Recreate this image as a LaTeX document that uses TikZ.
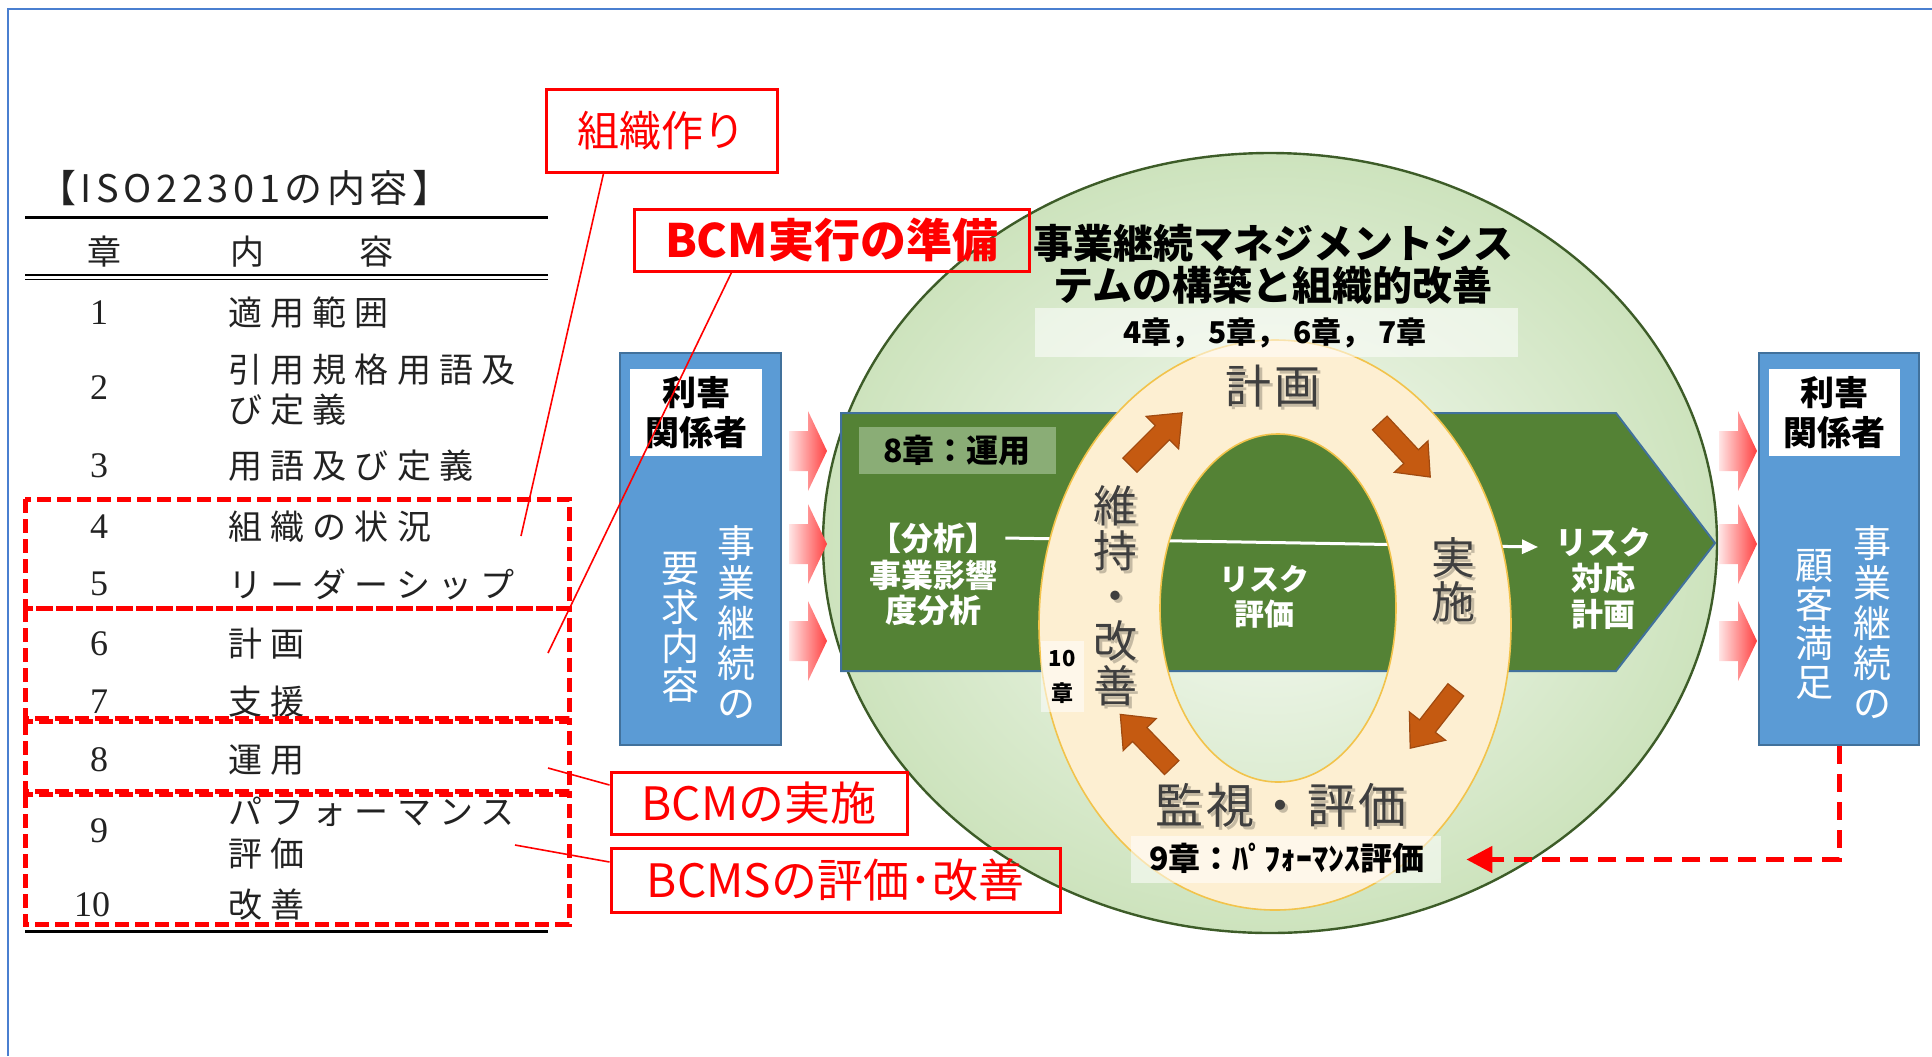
\documentclass[tikz,border=0pt]{standalone}
\usepackage{fontspec}
\setmainfont{Noto Sans CJK JP}
\newfontfamily\serifnum{Liberation Serif}
\usetikzlibrary{arrows.meta,fit,calc}
\definecolor{frameblue}{HTML}{4A7FD0}
\definecolor{boxblue}{HTML}{5B9BD5}
\definecolor{boxblueedge}{HTML}{41719C}
\definecolor{bandgreen}{HTML}{548235}
\definecolor{ringfill}{HTML}{FDEFD2}
\definecolor{ringedge}{HTML}{F2C34B}
\definecolor{orangearrow}{HTML}{C55A11}
\definecolor{orangeedge}{HTML}{A04A10}
\definecolor{ringtext}{HTML}{3F3F3F}
\definecolor{circleedge}{HTML}{3D5C28}
\definecolor{circlein}{HTML}{F7FBF5}
\definecolor{circleout}{HTML}{CDE3BD}
\definecolor{labelgreen}{HTML}{8AAD76}
\definecolor{tabtext}{HTML}{222222}
\newcommand{\fsz}[2]{\fontsize{#1pt}{#2pt}\selectfont}
\newcommand{\oarrow}[3]{%
  \begin{scope}[shift={(#1,#2)},rotate=#3]
    \draw[fill=orangearrow,draw=orangeedge,line width=0.6pt]
      (-37,-10) -- (9,-10) -- (9,-23) -- (37,0) -- (9,23) -- (9,10) -- (-37,10) -- cycle;
  \end{scope}}
\newcommand{\parrow}[2]{%
  \shade[left color=red!10,right color=red!75]
    (#1,#2-20) -- (#1+19,#2-20) -- (#1+19,#2-40) -- (#1+38,#2) -- (#1+19,#2+40) -- (#1+19,#2+20) -- (#1,#2+20) -- cycle;}
\tikzset{
  tabtxt/.style={anchor=west,inner sep=0,align=left,text=tabtext,font={\fsz{17}{20}\addfontfeature{LetterSpace=24}}},
  tabnum/.style={inner sep=0,text=tabtext,font={\serifnum\fsz{18}{20}}},
  callout/.style={draw=red,line width=1.5pt,text=red,inner sep=0},
  leader/.style={red,line width=0.8pt},
  tdash/.style={red,line width=2.5pt,dash pattern=on 7pt off 3pt},
  bluebox/.style={inner sep=0,draw=boxblueedge,fill=boxblue,line width=1.2pt},
  whitebox/.style={inner sep=0,fill=white},
  vtxt/.style={text=white,align=center,inner sep=0,font={\fsz{19}{20}}},
  stake/.style={align=center,inner sep=0,font={\bfseries\fsz{17}{20}}},
  wbold/.style={text=white,align=center,inner sep=0,font={\bfseries\fsz{16}{18}}},
  ringlbl/.style={text=ringtext,align=center,inner sep=0},
  ringsh/.style={text=black,opacity=0.22,align=center,inner sep=0},
  semibox/.style={inner sep=0,fill=white,fill opacity=0.55}
}
\begin{document}
\begin{tikzpicture}[x=0.5pt,y=-0.5pt]
\useasboundingbox (0,0) rectangle (1932,1056);
% frame
\draw[frameblue,line width=0.8pt] (8,1056) -- (8,9) -- (1932,9);

% big circle
\shade[inner color=circlein,outer color=circleout] (1270,543) ellipse [x radius=447,y radius=390];
\draw[circleedge,line width=1.2pt] (1270,543) ellipse [x radius=447,y radius=390];

% green band
\draw[fill=bandgreen,draw=boxblueedge,line width=1pt]
  (841,413) -- (1616,413) -- (1715,543) -- (1616,671) -- (841,671) -- cycle;
\node[fit={(859,427)(1056,474)},inner sep=0,fill=labelgreen] (ch8box) {};
\node[inner sep=0,font={\bfseries\fsz{16}{16}}] (ch8) at (957,450) {8章：運用};
\node[wbold] (bunseki) at (933,538) {【分析】};
\node[wbold,font={\bfseries\fsz{16}{17.5}}] (bia) at (933,593) {事業影響\\度分析};
\coordinate (wtip) at (1538,547);
\draw[white,line width=1.5pt,-{Triangle[length=8pt,width=7pt]}] ([xshift=4pt]bunseki.east) -- (wtip);
\node[wbold,font={\bfseries\fsz{16}{18}}] (taio) at (1603,579) {リスク\\対応\\計画};

% ring
\fill[ringfill,even odd rule] (1275,625) ellipse [x radius=236,y radius=285]
  (1278,608) ellipse [x radius=118,y radius=174];
\draw[ringedge,line width=0.8pt] (1275,625) ellipse [x radius=236,y radius=285];
\draw[ringedge,line width=0.8pt] (1278,608) ellipse [x radius=118,y radius=174];
\node[wbold,font={\bfseries\fsz{15}{17.5}}] (hyoka) at (1264,597) {リスク\\評価};

% orange arrows
\oarrow{1156}{439}{45}
\oarrow{1405}{450}{-47}
\oarrow{1433}{719}{-128}
\oarrow{1146}{741}{134}

% ring labels
\node[ringsh,font={\fsz{23}{23}\addfontfeature{LetterSpace=8}}] (keikakuS) at (1276,389) {計画};
\node[ringlbl,font={\fsz{23}{23}\addfontfeature{LetterSpace=8}}] (keikaku) at (1273,386) {計画};
\node[ringsh,font={\fsz{22}{22}}] (jisshiS) at (1456,583) {実\\施};
\node[ringlbl,font={\fsz{22}{22}}] (jisshi) at (1453,580) {実\\施};
\node[ringsh,font={\fsz{24}{24}\addfontfeature{LetterSpace=6}}] (kanshiS) at (1284,808) {監視・評価};
\node[ringlbl,font={\fsz{24}{24}\addfontfeature{LetterSpace=6}}] (kanshi) at (1281,805) {監視・評価};
\node[ringsh,font={\fsz{22}{22.5}}] (ijiS) at (1118,599) {維\\持\\・\\改\\善};
\node[ringlbl,font={\fsz{22}{22.5}}] (iji) at (1115,596) {維\\持\\・\\改\\善};

% chapter labels
\node[fit={(1035,308)(1518,357)},semibox] (ch47box) {};
\node[inner sep=0,font={\bfseries\fsz{15}{15}}] (ch47) at (1275,333) {4章，\ 5章，\ 6章，\ 7章};
\node[inner sep=0,align=center,font={\bfseries\fsz{20}{21}}] (systitle) at (1273,264) {事業継続マネジメントシス\\テムの構築と組織的改善};
\node[fit={(1041,641)(1084,712)},semibox] (ch10box) {};
\node[inner sep=0,align=center,font={\bfseries\fsz{11}{17.5}}] (ch10) at (1062,677) {10\\章};
\node[fit={(1131,836)(1441,883)},semibox] (ch9box) {};
\node[inner sep=0,font={\bfseries\fsz{16}{16}}] (ch9) at (1287,858) {9章：ﾊﾟﾌｫｰﾏﾝｽ評価};

% left stakeholder box
\node[fit={(620,353)(781,745)},bluebox] (lbox) {};
\node[fit={(630,369)(762,456)},whitebox] (lwhite) {};
\node[stake] (lstake) at (696,413) {利害\\関係者};
\node[vtxt] (lv1) at (736,622) {事\\業\\継\\続\\の};
\node[vtxt,font={\fsz{19}{19.5}}] (lv2) at (680,627) {要\\求\\内\\容};

% right stakeholder box
\node[fit={(1759,353)(1919,745)},bluebox] (rbox) {};
\node[fit={(1769,369)(1900,456)},whitebox] (rwhite) {};
\node[stake] (rstake) at (1834,413) {利害\\関係者};
\node[vtxt] (rv1) at (1872,622) {事\\業\\継\\続\\の};
\node[vtxt,font={\fsz{19}{19.5}}] (rv2) at (1814,624) {顧\\客\\満\\足};

% pink arrows
\parrow{789}{451}
\parrow{789}{544}
\parrow{789}{641}
\parrow{1719}{451}
\parrow{1719}{544}
\parrow{1719}{641}

% dashed feedback arrow
\draw[red,line width=2.5pt,dash pattern=on 9pt off 5pt,-{Triangle[length=13pt,width=13pt]}]
  (rbox.south) |- ($(ch9box.east)+(25,0)$);

% table
\node[tabtxt,font={\fsz{19}{20}\addfontfeature{LetterSpace=12}}] (tabtitle) at (38,188) {【ISO22301の内容】};
\draw[black,line width=1.5pt] (25,217) -- (548,217);
\node[tabtxt,anchor=center] (hshou) at (104,252) {章};
\node[tabtxt,anchor=center] (hnai) at (247,252) {内};
\node[tabtxt,anchor=center] (hyou) at (376,252) {容};
\draw[black,line width=0.6pt] (25,275) -- (548,275);
\draw[black,line width=0.6pt] (25,279.5) -- (548,279.5);
\node[tabnum] (n1) at (99,313) {1};
\node[tabtxt] (t1) at (228,313) {適用範囲};
\node[tabnum] (n2) at (99,388) {2};
\node[tabtxt] (t2) at (228,390) {引用規格用語及\\び定義};
\node[tabnum] (n3) at (99,466) {3};
\node[tabtxt] (t3) at (228,466) {用語及び定義};
\node[tabnum] (n4) at (99,527) {4};
\node[tabtxt] (t4) at (228,527) {組織の状況};
\node[tabnum] (n5) at (99,584) {5};
\node[tabtxt] (t5) at (228,584) {リーダーシップ};
\node[tabnum] (n6) at (99,644) {6};
\node[tabtxt] (t6) at (228,644) {計画};
\node[tabnum] (n7) at (99,702) {7};
\node[tabtxt] (t7) at (228,702) {支援};
\node[tabnum] (n8) at (99,760) {8};
\node[tabtxt] (t8) at (228,760) {運用};
\node[tabnum] (n9) at (99,831) {9};
\node[tabtxt,font={\fsz{17}{21}\addfontfeature{LetterSpace=24}}] (t9) at (228,833) {パフォーマンス\\評価};
\node[tabnum] (n10) at (92,905) {10};
\node[tabtxt] (t10) at (228,905) {改善};
\draw[black,line width=1.5pt] (25,931) -- (548,931);
\draw[tdash] (25,499) rectangle (569,608);
\draw[tdash] (25,608) rectangle (569,718);
\draw[tdash] (25,721) rectangle (569,791);
\draw[tdash] (25,794) rectangle (569,924);

% callouts
\node[callout,minimum width=115.5pt,minimum height=41.5pt,font={\fsz{21}{21}}] (soshiki) at (661.5,130.5) {組織作り};
\node[callout,minimum width=197.5pt,minimum height=31pt,font={\bfseries\fsz{23}{23}}] (junbi) at (831.5,240) {BCM実行の準備};
\node[callout,minimum width=148pt,minimum height=31pt,font={\fsz{23}{23}}] (jisshibcm) at (759,803) {BCMの実施};
\node[callout,minimum width=224.5pt,minimum height=32pt,font={\fsz{23}{23}}] (kaizen) at (835.5,880) {BCMSの評価･改善};
\coordinate (p4) at (521,536);
\coordinate (p6) at (548,653);
\coordinate (p8) at (548,768);
\coordinate (p9) at (515,845);
\draw[leader] ($(soshiki.south west)+(59,0)$) -- (p4);
\draw[leader] ($(junbi.south west)+(99,0)$) -- (p6);
\draw[leader] ($(jisshibcm.west)+(0,-18)$) -- (p8);
\draw[leader] ($(kaizen.west)+(0,-18)$) -- (p9);
\end{tikzpicture}
\end{document}
